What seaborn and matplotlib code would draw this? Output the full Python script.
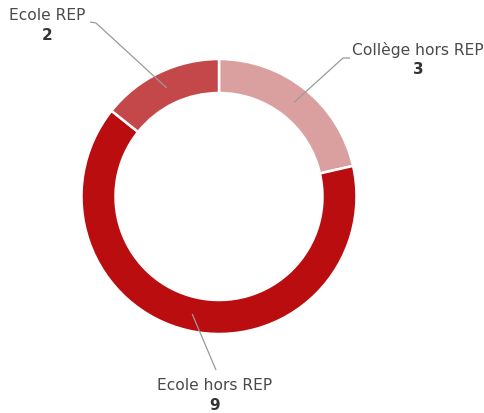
import numpy as np
import matplotlib
matplotlib.use("Agg")
import matplotlib.pyplot as plt
import seaborn as sns

# Répartition des établissements
categories = ["Collège hors REP", "Ecole hors REP", "Ecole REP"]
values = [3, 9, 2]
colors = ["#D9A09F", "#BA0D10", "#C4484A"]

sns.set_theme(style="white")
plt.rcParams["font.family"] = ["DejaVu Sans"]

W, H = 485, 414
fig = plt.figure(figsize=(W / 100, H / 100), dpi=100)
ax = fig.add_axes([0, 0, 1, 1])

center = (219, H - 197.5)
radius = 137.5
ring = 34

wedges, _ = ax.pie(values, colors=colors, startangle=90, counterclock=False,
                   center=center, radius=radius, frame=True,
                   wedgeprops=dict(width=ring, edgecolor="white", linewidth=1.8))
ax.set_xlim(0, W)
ax.set_ylim(0, H)
ax.set_aspect("equal")
ax.axis("off")

# label layout: (elbow point, line end, text centre) in pixel coordinates
layout = {
    "Collège hors REP": dict(elbow=(343, 59), end=(350, 59), text=(418, 50)),
    "Ecole hors REP": dict(elbow=(216, 371), end=(216, 371), text=(215, 386)),
    "Ecole REP": dict(elbow=(96, 24), end=(90, 23), text=(47, 15)),
}

for w, cat, val in zip(wedges, categories, values):
    mid = np.deg2rad((w.theta1 + w.theta2) / 2)
    rmid = w.r - w.width / 2
    px = center[0] + rmid * np.cos(mid)
    py = center[1] + rmid * np.sin(mid)
    lay = layout[cat]
    ex, ey = lay["elbow"]
    nx, ny = lay["end"]
    ax.plot([px, ex, nx], [py, H - ey, H - ny], color="#9a9a9a", lw=0.9,
            solid_capstyle="butt")
    tx, ty = lay["text"]
    ax.text(tx, H - ty, cat, ha="center", va="center", fontsize=11.2,
            color="#4a4a4a")
    ax.text(tx, H - ty - 20, str(val), ha="center", va="center", fontsize=11,
            color="#333333", fontweight="bold")

fig.savefig("out.png", dpi=100, facecolor="white")
